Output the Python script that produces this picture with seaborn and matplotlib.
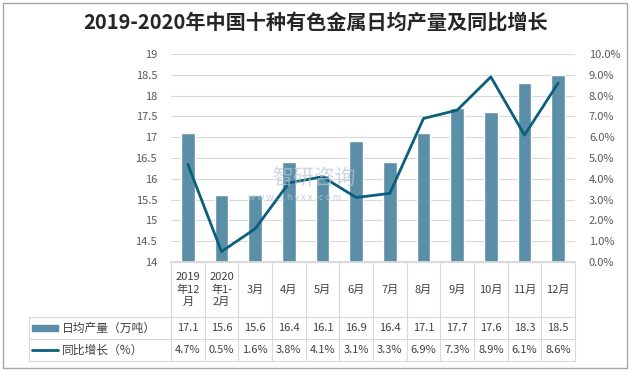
import matplotlib
matplotlib.use('Agg')
import matplotlib.pyplot as plt
from matplotlib.lines import Line2D
from matplotlib.patches import Rectangle
import seaborn as sns
import numpy as np
import pandas as pd

# 数据
months = ['2019\n年12\n月', '2020\n年1-\n2月', '3月', '4月', '5月', '6月',
          '7月', '8月', '9月', '10月', '11月', '12月']
output = [17.1, 15.6, 15.6, 16.4, 16.1, 16.9, 16.4, 17.1, 17.7, 17.6, 18.3, 18.5]
growth = [4.7, 0.5, 1.6, 3.8, 4.1, 3.1, 3.3, 6.9, 7.3, 8.9, 6.1, 8.6]
bar_name = '日均产量（万吨）'
line_name = '同比增长（%）'
title = '2019-2020年中国十种有色金属日均产量及同比增长'

bar_color = '#5B8FA8'
line_color = '#0B5E7C'
grid_color = '#D9D9D9'
text_color = '#404040'
tick_color = '#595959'

df = pd.DataFrame({'月份': months, '产量': output, '增长': np.array(growth) / 100})
df['pos'] = np.arange(len(df))

sns.set_theme(style='white')
plt.rcParams['font.family'] = ['Noto Sans CJK SC', 'DejaVu Sans']

W, H = 631, 372
fig = plt.figure(figsize=(W / 100, H / 100), dpi=100)


def fx(px):
    return px / W


def fy(py):
    return 1 - py / H


x0, x1, y_top, y_bot = 171, 575, 54, 262
ax = fig.add_axes([fx(x0), fy(y_bot), fx(x1 - x0), (y_bot - y_top) / H])

sns.barplot(data=df, x='月份', y='产量', color=bar_color, saturation=1,
            width=0.4, ax=ax, zorder=2)
ax.set_ylim(14, 19)
ax.set_yticks(np.arange(14, 19.01, 0.5))
ax.set_yticklabels([f'{v:g}' for v in np.arange(14, 19.01, 0.5)])
ax.set_xlim(-0.5, len(months) - 0.5)
ax.set_xticks([])
ax.set_xlabel('')
ax.set_ylabel('')
ax.grid(axis='y', color=grid_color, linewidth=0.8, zorder=0)
ax.set_axisbelow(True)
for s in ['left', 'right', 'top']:
    ax.spines[s].set_visible(False)
ax.spines['bottom'].set_color(grid_color)
ax.tick_params(axis='y', length=0, labelsize=8, labelcolor=tick_color, pad=10)

ax2 = ax.twinx()
sns.lineplot(data=df, x='pos', y='增长', color=line_color, linewidth=2.0,
             ax=ax2, zorder=3)
ax2.set_ylim(0, 0.10)
ax2.set_yticks(np.arange(0, 0.1001, 0.01))
ax2.set_yticklabels([f'{v * 100:.1f}%' for v in np.arange(0, 0.1001, 0.01)])
ax2.set_ylabel('')
ax2.set_xlabel('')
ax2.set_xlim(-0.5, len(months) - 0.5)
ax2.set_xticks([])
for s in ['left', 'right', 'top', 'bottom']:
    ax2.spines[s].set_visible(False)
ax2.tick_params(axis='y', length=0, labelsize=8, labelcolor=tick_color, pad=10)

# 水印
fig.text(fx(272), fy(178), '智研咨询', fontsize=15, color='#B8C4D2', alpha=0.7,
         ha='left', va='center', zorder=5)
fig.text(fx(248), fy(198), 'w w w . c h y x x . c o m', fontsize=6.5,
         color='#B8C4D2', alpha=0.8, ha='left', va='center', zorder=5)

# 数据表
leg_x = 29
row1, row2, row3 = 317, 339, 361
cw = (x1 - x0) / len(months)
lines = [
    ((x0, x1), (y_bot, y_bot)),
    ((leg_x, x1), (row1, row1)),
    ((leg_x, x1), (row2, row2)),
    ((leg_x, x1), (row3, row3)),
    ((leg_x, leg_x), (row1, row3)),
]
for i in range(len(months) + 1):
    xx = x0 + i * cw
    lines.append(((xx, xx), (y_bot, row3)))
for (xa, xb), (ya, yb) in lines:
    fig.add_artist(Line2D([fx(xa), fx(xb)], [fy(ya), fy(yb)],
                          color=grid_color, linewidth=0.8))

for i, m in enumerate(months):
    cx = x0 + (i + 0.5) * cw
    fig.text(fx(cx), fy((y_bot + row1) / 2), m, ha='center', va='center',
             fontsize=8, color=text_color, linespacing=1.3)
    fig.text(fx(cx), fy((row1 + row2) / 2), f'{output[i]:.1f}', ha='center',
             va='center', fontsize=8, color=text_color)
    fig.text(fx(cx), fy((row2 + row3) / 2), f'{growth[i]:.1f}%', ha='center',
             va='center', fontsize=8, color=text_color)

fig.add_artist(Rectangle((fx(32), fy(331)), fx(26), 6 / H, color=bar_color))
fig.text(fx(62), fy((row1 + row2) / 2), bar_name, ha='left', va='center',
         fontsize=8.5, color=text_color)
fig.add_artist(Line2D([fx(32), fx(58)], [fy(350), fy(350)], color=line_color,
                      linewidth=2.0))
fig.text(fx(62), fy((row2 + row3) / 2), line_name, ha='left', va='center',
         fontsize=8.5, color=text_color)

fig.text(0.5, fy(22), title, ha='center', va='center', fontsize=14.5,
         fontweight='bold', color='#262626')

# 外框
fig.add_artist(Rectangle((fx(3), fy(368)), fx(624), 365 / H, fill=False,
                         edgecolor='#A6A6A6', linewidth=1.0))

fig.savefig('out.png', dpi=100)
